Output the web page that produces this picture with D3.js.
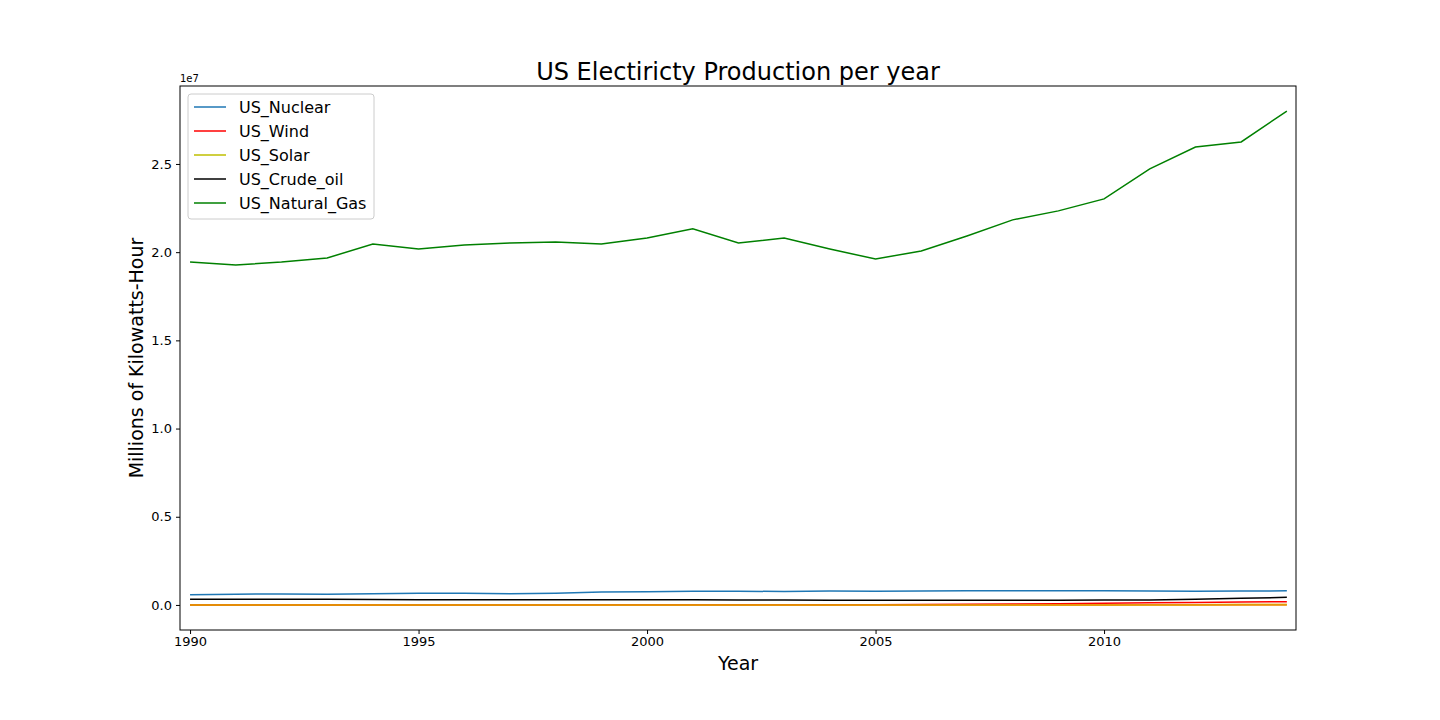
<!DOCTYPE html><html><head><meta charset="utf-8"><script src="https://cdn.jsdelivr.net/npm/d3@7"></script>
<style>body{margin:0;background:#fff}text{font-family:"DejaVu Sans",sans-serif}</style></head><body><svg id="c" width="1440" height="720"></svg>
<script>
const years=d3.range(1990,2015);
const nuclear=[0.58,0.61,0.62,0.61,0.64,0.67,0.67,0.63,0.67,0.73,0.75,0.77,0.78,0.76,0.79,0.78,0.79,0.81,0.81,0.80,0.81,0.79,0.77,0.79,0.80].map(v=>v*1e6);
const wind=[0.003,0.003,0.003,0.003,0.004,0.004,0.004,0.004,0.004,0.005,0.006,0.007,0.011,0.011,0.014,0.018,0.027,0.035,0.055,0.074,0.095,0.12,0.14,0.168,0.18].map(v=>v*1e6);
const solar=[0,0,0,0,0,0,0,0,0,0,0,0,0,0,0,0,0,0.001,0.002,0.002,0.003,0.005,0.01,0.02,0.03].map(v=>v*1e6);
const crude=[0.33,0.33,0.33,0.32,0.31,0.30,0.30,0.30,0.30,0.29,0.29,0.29,0.28,0.28,0.27,0.26,0.26,0.26,0.26,0.27,0.28,0.28,0.32,0.38,0.43].map(v=>v*1e6);
const gas=[19.44,19.27,19.44,19.67,20.46,20.18,20.41,20.52,20.58,20.46,20.80,21.32,20.52,20.80,20.18,19.61,20.07,20.92,21.83,22.34,23.02,24.72,25.96,26.25,28.0].map(v=>v*1e6);
const other=years.map(()=>0);
const series=[{n:"US_Nuclear",v:nuclear,c:"#1f77b4"},{n:"US_Wind",v:wind,c:"#ff0000"},{n:"US_Solar",v:solar,c:"#bfbf00"},{n:"US_Crude_oil",v:crude,c:"#000000"},{n:"US_Natural_Gas",v:gas,c:"#008000"}];
const yTicks=[0,0.5e7,1e7,1.5e7,2e7,2.5e7];
const xTicks=[1990,1995,2000,2005,2010];
const L=180,R=1296,T=86,B=630;
const svg=d3.select("#c");
const x=d3.scaleLinear().domain([1989.78,2014.2]).range([L,R]);
const y=d3.scaleLinear().domain([-1.42e6,29.42e6]).range([B,T]);
const gx=svg.append("g").attr("transform",`translate(0,${B})`).call(d3.axisBottom(x).tickValues(xTicks).tickFormat(d3.format("d")).tickSize(4).tickSizeOuter(0));
const gy=svg.append("g").attr("transform",`translate(${L},0)`).call(d3.axisLeft(y).tickValues(yTicks).tickFormat(d=>(d/1e7).toFixed(1)).tickSize(4).tickSizeOuter(0));
[gx,gy].forEach(g=>{g.select(".domain").remove();g.selectAll("text").attr("font-size",13).attr("fill","#000").attr("font-family","DejaVu Sans");});
gy.selectAll("text").attr("x",-8);
const line=v=>d3.line().x((d,i)=>x(years[i])).y(d=>y(d))(v);
svg.append("path").attr("d",line(other)).attr("fill","none").attr("stroke","#ff7f0e").attr("stroke-width",1.5);
series.forEach(s=>svg.append("path").attr("d",line(s.v)).attr("fill","none").attr("stroke",s.c).attr("stroke-width",1.5));
svg.append("path").attr("d",line(solar)).attr("fill","none").attr("stroke","#ff7f0e").attr("stroke-width",1.5).attr("opacity",0.6);
svg.append("rect").attr("x",L).attr("y",T).attr("width",R-L).attr("height",B-T).attr("fill","none").attr("stroke","#000");
svg.append("text").attr("x",L).attr("y",T-4).attr("font-size",10).text("1e7");
svg.append("text").attr("x",(L+R)/2).attr("y",T-6).attr("text-anchor","middle").attr("font-size",24).text("US Electiricty Production per year");
svg.append("text").attr("x",(L+R)/2).attr("y",670).attr("text-anchor","middle").attr("font-size",19).text("Year");
svg.append("text").attr("transform",`translate(143,${(T+B)/2}) rotate(-90)`).attr("text-anchor","middle").attr("font-size",19).text("Millions of Kilowatts-Hour");
const lg=svg.append("g");
lg.append("rect").attr("x",188).attr("y",94).attr("width",186).attr("height",125).attr("rx",3).attr("fill","#fff").attr("stroke","#ccc");
series.forEach((s,i)=>{const yy=107+i*24;
lg.append("line").attr("x1",194).attr("x2",226).attr("y1",yy).attr("y2",yy).attr("stroke",s.c).attr("stroke-width",1.5);
lg.append("text").attr("x",239).attr("y",yy+5.5).attr("font-size",16).text(s.n);});
</script></body></html>
